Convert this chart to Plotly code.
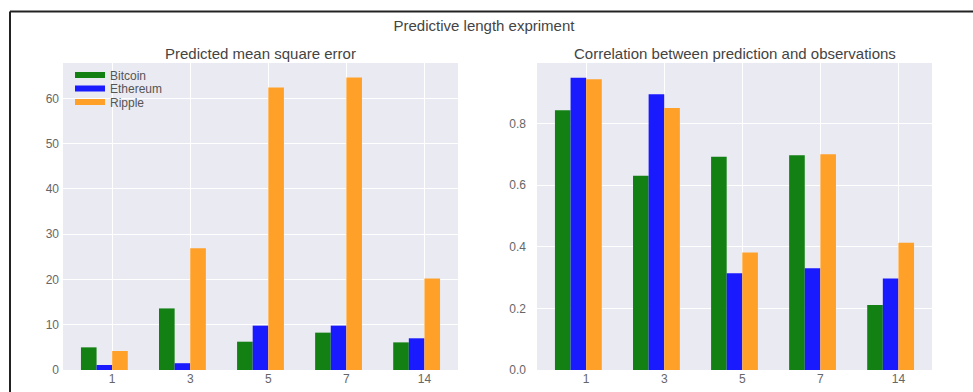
import plotly.graph_objects as go

categories = ["1", "3", "5", "7", "14"]
series_names = ["Bitcoin", "Ethereum", "Ripple"]
colors = ["#128012", "#1a1aff", "#ffa128"]

mse_bitcoin = [5.0, 13.6, 6.25, 8.25, 6.1]
mse_ethereum = [1.1, 1.5, 9.8, 9.8, 7.0]
mse_ripple = [4.2, 26.9, 62.4, 64.6, 20.2]

corr_bitcoin = [0.843, 0.630, 0.692, 0.697, 0.211]
corr_ethereum = [0.948, 0.895, 0.314, 0.330, 0.297]
corr_ripple = [0.943, 0.850, 0.381, 0.700, 0.413]

mse = [mse_bitcoin, mse_ethereum, mse_ripple]
corr = [corr_bitcoin, corr_ethereum, corr_ripple]

W, H = 973, 392
L, R, T, B = 63, 41, 63, 22
pw = W - L - R
ph = H - T - B

pos = list(range(len(categories)))
bw = 0.2
offsets = [-2 * bw, -bw, 0.0]

FONT = "Liberation Sans, Arial, sans-serif"

fig = go.Figure()
for i, name in enumerate(series_names):
    fig.add_trace(go.Bar(x=pos, y=mse[i], width=bw, offset=offsets[i],
                         marker=dict(color=colors[i], line=dict(width=0)),
                         name=name, showlegend=False, xaxis="x", yaxis="y"))
    fig.add_trace(go.Bar(x=pos, y=corr[i], width=bw, offset=offsets[i],
                         marker=dict(color=colors[i], line=dict(width=0)),
                         name=name, showlegend=False, xaxis="x2", yaxis="y2"))

# legend proxies (wide patches like the original), one legend per row
legend_names = ["legend", "legend2", "legend3"]
row_y = [75, 88.5, 102]
for i, name in enumerate(series_names):
    fig.add_trace(go.Scatter(x=[None], y=[None], mode="lines",
                             line=dict(color=colors[i], width=6),
                             name=name, showlegend=True, legend=legend_names[i],
                             xaxis="x", yaxis="y"))

d1 = (458 - L) / pw
d2 = (537 - L) / pw

tickfont = dict(family=FONT, size=12, color="#666666")
common_x = dict(tickmode="array", tickvals=pos, ticktext=categories,
                range=[-0.63, 4.43], showgrid=True, gridcolor="white", gridwidth=1,
                zeroline=False, showline=False, ticks="", tickfont=tickfont,
                automargin=False)
common_y = dict(showgrid=True, gridcolor="white", gridwidth=1, zeroline=False,
                showline=False, ticks="", tickfont=tickfont, automargin=False)

legend_common = dict(x=(70 - L) / pw, xanchor="left", yanchor="middle",
                     bgcolor="rgba(0,0,0,0)", borderwidth=0,
                     font=dict(family=FONT, size=12, color="#555555"),
                     itemwidth=30)

layout_legends = {}
for i, ln in enumerate(legend_names):
    layout_legends[ln] = dict(y=1 - (row_y[i] - T) / ph, **legend_common)

fig.update_layout(
    width=W, height=H,
    margin=dict(l=L, r=R, t=T, b=B, pad=0, autoexpand=False),
    paper_bgcolor="white",
    plot_bgcolor="#eaeaf2",
    barmode="overlay",
    font=dict(family=FONT, color="#444444"),
    title=dict(text="Predictive length expriment", x=484 / W, xanchor="center",
               y=1 - 26 / H, yanchor="middle", yref="container",
               font=dict(size=15, color="#444444")),
    xaxis=dict(domain=[0, d1], anchor="y", **common_x),
    yaxis=dict(domain=[0, 1], anchor="x", range=[0, 67.8],
               tickvals=[0, 10, 20, 30, 40, 50, 60], ticklabelstandoff=3, **common_y),
    xaxis2=dict(domain=[d2, 1], anchor="y2", **common_x),
    yaxis2=dict(domain=[0, 1], anchor="x2", range=[0, 0.996],
                tickvals=[0, 0.2, 0.4, 0.6, 0.8], tickformat=".1f",
                ticklabelstandoff=10, **common_y),
    showlegend=True,
    **layout_legends,
)

sub_y = 1 + (T - 53.5) / ph
fig.add_annotation(text="Predicted mean square error", x=d1 / 2, y=sub_y,
                   xref="paper", yref="paper", showarrow=False,
                   xanchor="center", yanchor="middle",
                   font=dict(size=15, color="#444444"))
fig.add_annotation(text="Correlation between prediction and observations",
                   x=(d2 + 1) / 2, y=sub_y, xref="paper", yref="paper",
                   showarrow=False, xanchor="center", yanchor="middle",
                   font=dict(size=15, color="#444444"))

# outer frame lines (top and left)
x_left = (10 - L) / pw
y_top = 1 + (T - 11.5) / ph
y_bottom = -(H + 5 - T - ph) / ph
fig.add_shape(type="line", xref="paper", yref="paper", x0=x_left, x1=(W + 5 - L) / pw,
              y0=y_top, y1=y_top, line=dict(color="#222222", width=2))
fig.add_shape(type="line", xref="paper", yref="paper", x0=x_left, x1=x_left,
              y0=y_top, y1=y_bottom, line=dict(color="#222222", width=2))

fig.write_html("out.html", config={"displayModeBar": False},
               post_script="document.body.style.margin='0px';")
